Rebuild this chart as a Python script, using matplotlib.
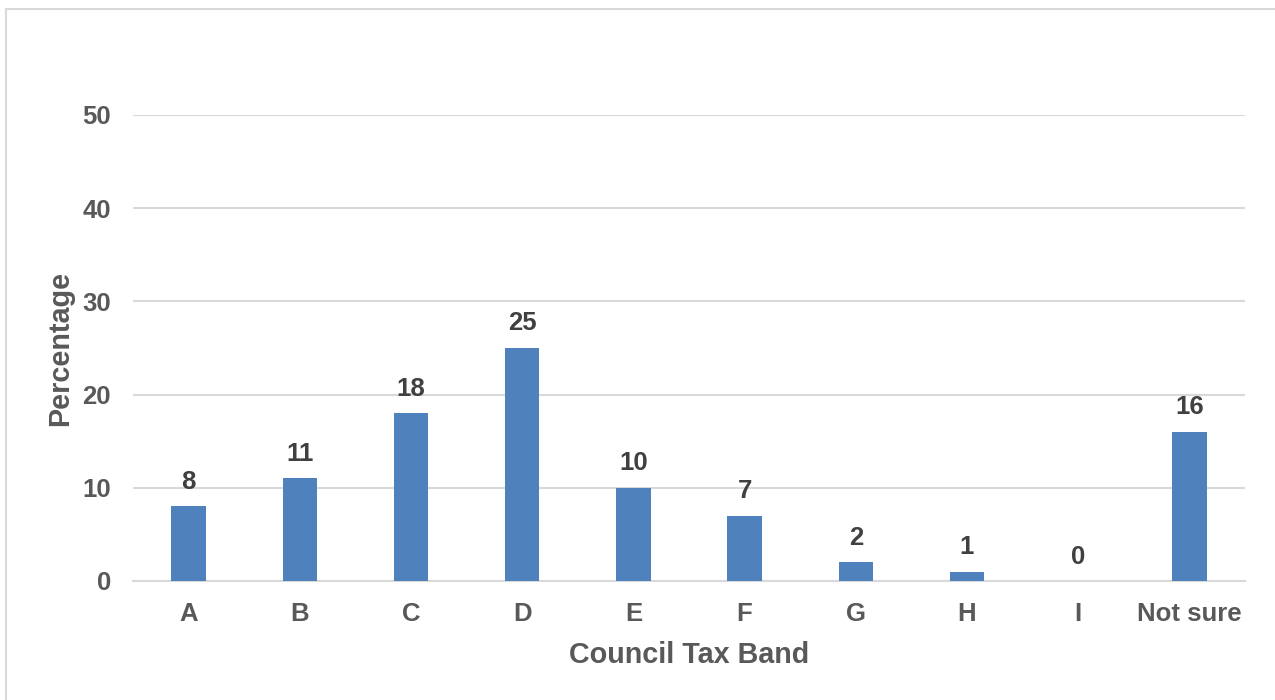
import matplotlib.pyplot as plt
from matplotlib.patches import Rectangle

bands = ["A", "B", "C", "D", "E", "F", "G", "H", "I", "Not sure"]
percent = [8, 11, 18, 25, 10, 7, 2, 1, 0, 16]
yticks = [0, 10, 20, 30, 40, 50]

bar_color = "#4F81BD"
text_grey = "#595959"
grid_grey = "#D9D9D9"

plt.rcParams['font.family'] = ['Liberation Sans', 'DejaVu Sans']

fig = plt.figure(figsize=(12.75, 7.0), dpi=100)
fig.patches.append(Rectangle((6/1275, -0.05), 1.1, 1.05 - 9/700, transform=fig.transFigure,
                             fill=False, edgecolor="#D9D9D9", linewidth=1.5))
ax = fig.add_axes([133/1275, 1-581/700, 1112/1275, 466/700])

x = range(len(bands))
bars = ax.bar(x, percent, width=0.31, color=bar_color, zorder=3)
for xi, v in zip(x, percent):
    ax.annotate(str(v), (xi, v), xytext=(0, 9), textcoords="offset points",
                ha="center", va="bottom", fontsize=18.5, fontweight="bold", color="#404040")

ax.set_xlim(-0.5, len(bands) - 0.5)
ax.set_ylim(0, 50)
ax.set_yticks(yticks)
ax.set_xticks(list(x))
ax.set_xticklabels(bands)
ax.yaxis.grid(True, color=grid_grey, linewidth=1.5, zorder=0)
ax.set_axisbelow(True)
for s in ["top", "right", "left"]:
    ax.spines[s].set_visible(False)
ax.spines["bottom"].set_color(grid_grey)
ax.spines["bottom"].set_linewidth(1.5)
ax.tick_params(axis="both", length=0, labelsize=18.5, labelcolor=text_grey)
ax.tick_params(axis="x", pad=15)
ax.tick_params(axis="y", pad=16)
for lab in ax.get_xticklabels() + ax.get_yticklabels():
    lab.set_fontweight("bold")

ax.set_xlabel("Council Tax Band", fontsize=20.7, fontweight="bold", color=text_grey, labelpad=11)
ax.set_ylabel("Percentage", fontsize=20.7, fontweight="bold", color=text_grey, labelpad=6)

fig.savefig("out.png", dpi=100)
